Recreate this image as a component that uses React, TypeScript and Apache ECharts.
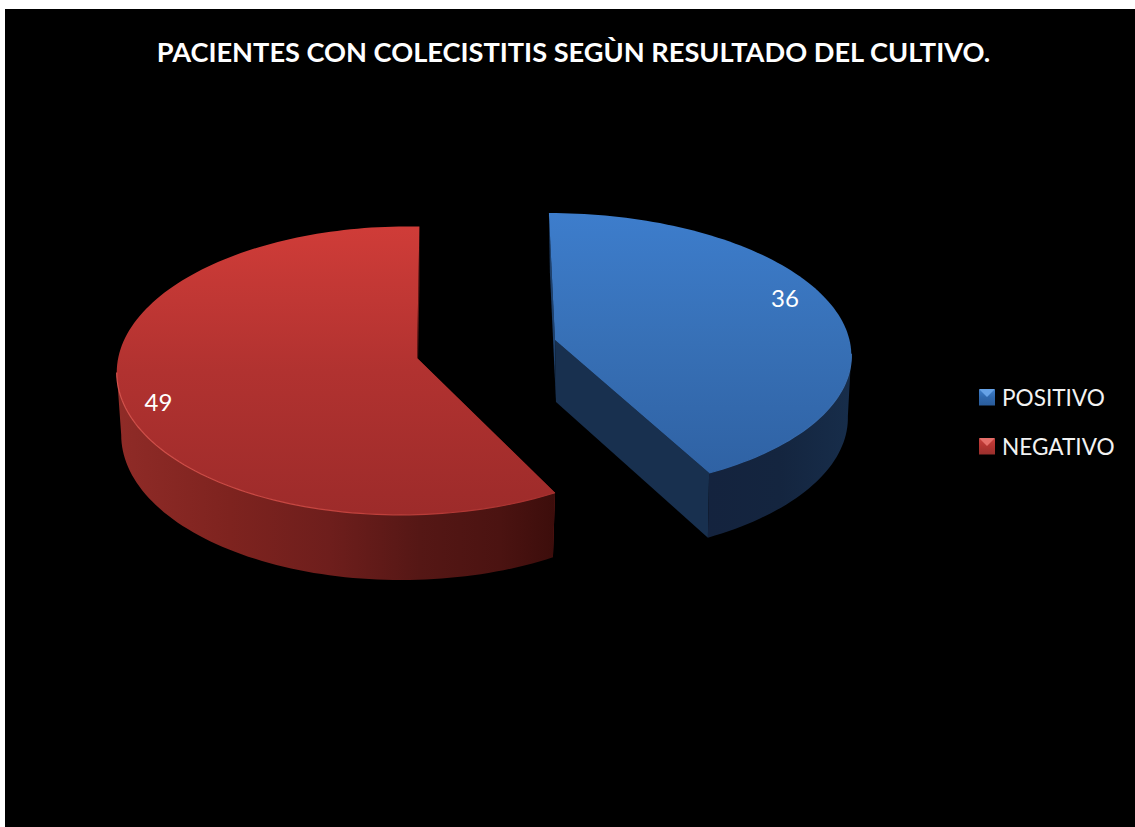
import React, { useEffect, useRef } from "react";
import * as echarts from "echarts";

const titleText = "PACIENTES CON COLECISTITIS SEGÙN RESULTADO DEL CULTIVO.";
const categories = ["POSITIVO", "NEGATIVO"];
const cases = [36, 49];
const total = cases.reduce((sum, v) => sum + v, 0);

const FONT = "Lato, 'Open Sans', sans-serif";

// Perspective parameters of each exploded wedge, plus its colours.
const wedges = [
  {
    cx: 555, cy: 340, a: 294.5, b: 138.2, k: 0.0885, m: 0, lean: 75,
    depth: 62, floorDx: 1, floorA: 0.985, floorB: 1.02,
    labelAngle: 68.6, labelRadius: 0.87,
    topStops: ["#3d7dcc", "#3770b6", "#2f62a4"], topRange: [213, 473],
    wallStops: [[709, "#14233e"], [780, "#14253f"], [849, "#172d4a"]],
    radialColor: "#18304f", backColor: "#1e416d",
    rimStops: ["#2f62a4", "#3a6fb2"],
  },
  {
    cx: 417, cy: 358, a: 285, b: 143, k: 0.0877, m: 0.042, lean: -30,
    depth: 62, floorDx: 0, floorA: 0.985, floorB: 1.02,
    labelAngle: 251.5, labelRadius: 0.892,
    topStops: ["#cf3c38", "#b13230", "#9d2b2a"], topRange: [228, 515],
    wallStops: [[120, "#8f2b27"], [230, "#7e231f"], [330, "#6e1e1c"], [420, "#551715"], [500, "#4b1311"], [556, "#3c0d0b"]],
    radialColor: "#5a1614", backColor: "#8a2320",
    rimStops: ["#d4524c", "#a5302e"],
  },
];

type Wedge = (typeof wedges)[number];

function project(w: Wedge, deg: number, r: number, floor: boolean): number[] {
  const t = (deg * Math.PI) / 180;
  const u = r * Math.sin(t);
  const v = -r * Math.cos(t);
  const d = 1 - w.k * v + w.m * u;
  const a = floor ? w.a * w.floorA : w.a;
  const b = floor ? w.b * w.floorB : w.b;
  const x = w.cx + (floor ? w.floorDx : 0) + w.lean * (1 / d - 1) + (a * u) / d;
  const y = w.cy + (floor ? w.depth : 0) + (b * v) / d;
  return [x, y];
}

const ARC_STEP = 1.5;

function arc(w: Wedge, from: number, to: number, floor: boolean): number[][] {
  const pts: number[][] = [];
  const steps = Math.ceil(Math.abs(to - from) / ARC_STEP);
  for (let i = 0; i <= steps; i++) {
    pts.push(project(w, from + ((to - from) * i) / steps, 1, floor));
  }
  return pts;
}

function wedgeSpan(index: number): number[] {
  const before = cases.slice(0, index).reduce((sum, v) => sum + v, 0);
  return [(before / total) * 360, ((before + cases[index]) / total) * 360];
}

function renderWedge(index: number) {
  return (_params: unknown, api: { value: (d: number) => number }) => {
    const w = wedges[index];
    const value = api.value(0);
    const [start, end] = wedgeSpan(index);
    const apexTop = project(w, start, 0, false);
    const apexFloor = project(w, start, 0, true);
    const rimTop = arc(w, start, end, false);
    const rimFloor = arc(w, start, end, true);

    // Index on the rim where the silhouette turns: only the stretch in front of it is seen.
    const xs = rimTop.map((p) => p[0]);
    const turn = index === 0 ? xs.indexOf(Math.max(...xs)) : xs.indexOf(Math.min(...xs));
    const wallTop = index === 0 ? rimTop.slice(turn) : rimTop.slice(0, turn + 1);
    const wallFloor = index === 0 ? rimFloor.slice(turn) : rimFloor.slice(0, turn + 1);

    const x0 = w.wallStops[0][0] as number;
    const x1 = w.wallStops[w.wallStops.length - 1][0] as number;
    const wallFill = new echarts.graphic.LinearGradient(
      x0, 0, x1, 0,
      w.wallStops.map(([x, color]) => ({ offset: ((x as number) - x0) / (x1 - x0), color: color as string })),
      true
    );
    const topFill = new echarts.graphic.LinearGradient(
      0, w.topRange[0], 0, w.topRange[1],
      w.topStops.map((color, i) => ({ offset: i / (w.topStops.length - 1), color })),
      true
    );
    const rimXs = wallTop.map((p) => p[0]);
    const rimStroke = new echarts.graphic.LinearGradient(
      Math.min(...rimXs), 0, Math.max(...rimXs), 0,
      index === 0
        ? [{ offset: 0, color: w.rimStops[0] }, { offset: 1, color: w.rimStops[1] }]
        : [{ offset: 0, color: w.rimStops[0] }, { offset: 0.55, color: "#c2423d" }, { offset: 1, color: w.rimStops[1] }],
      true
    );
    const labelPos = project(w, w.labelAngle, w.labelRadius, false);

    // Radial faces first, then the curved wall, then the top face over both.
    const firstFace = [apexTop, rimTop[0], rimFloor[0], apexFloor];
    const lastFace = [apexTop, rimTop[rimTop.length - 1], rimFloor[rimFloor.length - 1], apexFloor];

    return {
      type: "group",
      children: [
        { type: "polygon", shape: { points: firstFace }, style: { fill: w.backColor } },
        { type: "polygon", shape: { points: lastFace }, style: { fill: w.radialColor } },
        { type: "polygon", shape: { points: [...wallTop, ...wallFloor.slice().reverse()] }, style: { fill: wallFill } },
        { type: "polygon", shape: { points: [apexTop, ...rimTop] }, style: { fill: topFill } },
        { type: "polyline", shape: { points: wallTop }, style: { fill: "none", stroke: rimStroke, lineWidth: 1.2 } },
        {
          type: "text",
          style: {
            x: labelPos[0], y: labelPos[1], text: String(value), fill: "#ffffff",
            font: `24px ${FONT}`, textAlign: "center", textVerticalAlign: "middle",
          },
        },
      ],
    };
  };
}

const legendFills = [
  ["#3f7fcb", "#2f68ad", "#2a5c9b"],
  ["#c8403c", "#b23431", "#99302d"],
];

// Lighter top bevel on the legend keys.
const bevelColors = ["#66a2e6", "#e56e69"];
const keyLeft = 979;
const keyTops = [389, 438];
const keySize = 16;

export default function App() {
  const ref = useRef<HTMLDivElement>(null);

  useEffect(() => {
    if (!ref.current) return;
    const chart = echarts.init(ref.current, undefined, { renderer: "svg" });
    chart.setOption({
      animation: false,
      title: {
        text: titleText,
        left: 568.5,
        top: 33,
        textAlign: "center",
        textStyle: { color: "#ffffff", fontFamily: FONT, fontWeight: "bold", fontSize: 27.2 },
      },
      legend: {
        orient: "vertical",
        left: keyLeft,
        top: 386,
        padding: 0,
        icon: "rect",
        itemWidth: keySize,
        itemHeight: keySize,
        itemGap: 26,
        selectedMode: false,
        textStyle: { color: "#f2f2f2", fontFamily: FONT, fontSize: 22.6, padding: [0, 0, 0, 2] },
        data: categories.map((name, i) => ({
          name,
          itemStyle: {
            color: {
              type: "linear", x: 0, y: 0, x2: 0, y2: 1,
              colorStops: legendFills[i].map((color, j) => ({ offset: j / 2, color })),
            },
          },
        })),
      },
      graphic: categories.map((_, i) => ({
        type: "polygon",
        z: 20,
        silent: true,
        shape: {
          points: [
            [keyLeft, keyTops[i]],
            [keyLeft + keySize, keyTops[i]],
            [keyLeft + keySize / 2, keyTops[i] + 8],
          ],
        },
        style: { fill: bevelColors[i] },
      })),
      series: categories.map((name, i) => ({
        type: "custom",
        name,
        coordinateSystem: "none",
        silent: true,
        data: [[cases[i]]],
        renderItem: renderWedge(i),
      })),
    });
    return () => chart.dispose();
  }, []);

  return (
    <div style={{ position: "fixed", left: 0, top: 0, width: 1135, height: 827, background: "#ffffff", overflow: "hidden" }}>
      <div style={{ position: "absolute", left: 5, top: 9, right: 0, bottom: 0, background: "#000000" }} />
      <div ref={ref} style={{ position: "absolute", left: 0, top: 0, width: 1135, height: 827 }} />
    </div>
  );
}
